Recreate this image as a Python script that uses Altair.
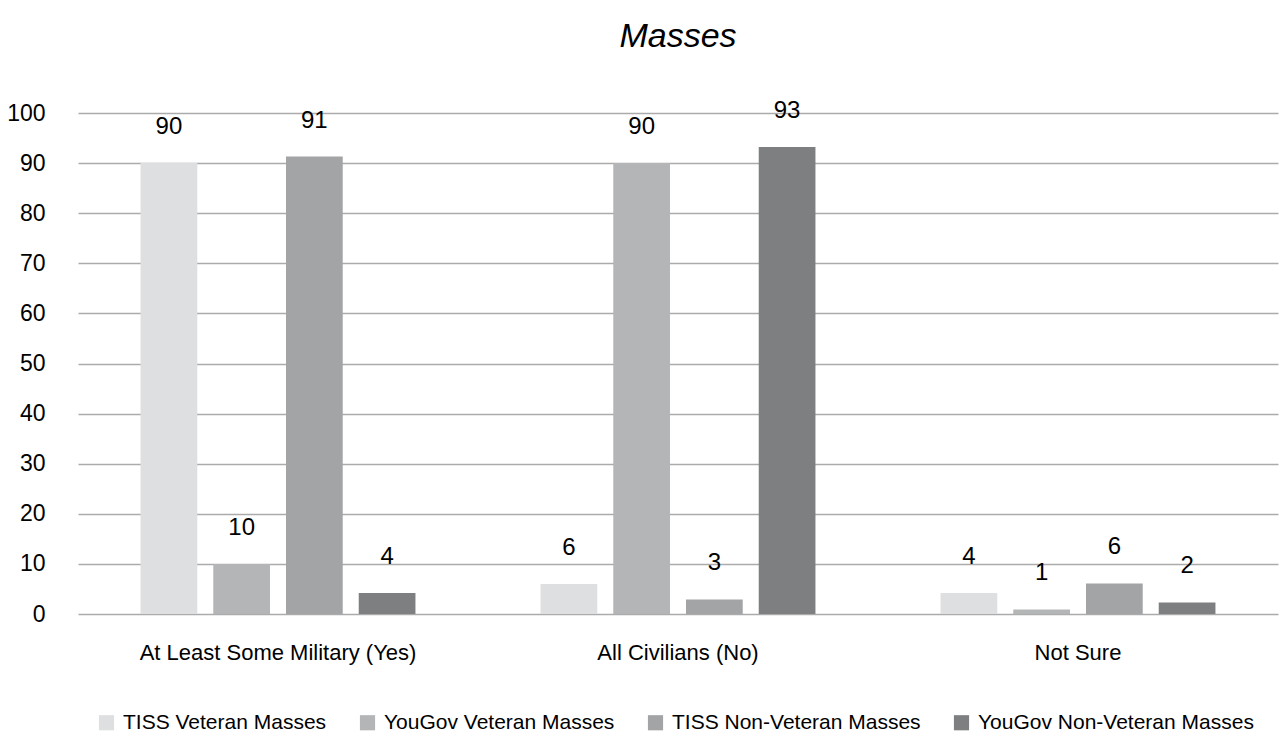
import altair as alt
import pandas as pd

categories = ["At Least Some Military (Yes)", "All Civilians (No)", "Not Sure"]
series = ["TISS Veteran Masses", "YouGov Veteran Masses", "TISS Non-Veteran Masses", "YouGov Non-Veteran Masses"]
values = {
    "TISS Veteran Masses": [90.0, 6.0, 4.2],
    "YouGov Veteran Masses": [10.0, 90.0, 0.9],
    "TISS Non-Veteran Masses": [91.3, 2.9, 6.1],
    "YouGov Non-Veteran Masses": [4.2, 93.2, 2.3],
}
labels = {
    "TISS Veteran Masses": ["90", "6", "4"],
    "YouGov Veteran Masses": ["10", "90", "1"],
    "TISS Non-Veteran Masses": ["91", "3", "6"],
    "YouGov Non-Veteran Masses": ["4", "93", "2"],
}
colors = ["#DEDFE0", "#B4B5B6", "#A3A4A5", "#7E7F80"]

rows = []
for s in series:
    for i, c in enumerate(categories):
        rows.append({"category": c, "series": s, "value": values[s][i], "label": labels[s][i]})
df = pd.DataFrame(rows)

FONT = "Liberation Sans"

x = alt.X("category:N", sort=categories, title=None,
          scale=alt.Scale(paddingInner=0, paddingOuter=0),
          axis=alt.Axis(labelAngle=0, labelFontSize=22, labelColor="#000", labelFont=FONT,
                        ticks=False, domain=False, labelPadding=28, labelLimit=0))
xo = alt.XOffset("series:N", sort=series, scale=alt.Scale(paddingInner=0.22, paddingOuter=0.86))
y = alt.Y("value:Q", title=None,
          scale=alt.Scale(domain=[0, 100]),
          axis=alt.Axis(values=list(range(0, 101, 10)), labelFontSize=23, labelColor="#000",
                        labelFont=FONT, ticks=False, domain=False, labelPadding=33,
                        grid=True, gridColor="#ABABAB", gridWidth=1.5))
color = alt.Color("series:N", sort=series, scale=alt.Scale(domain=series, range=colors),
                  legend=alt.Legend(title=None, orient="none", legendX=18, legendY=599,
                                    direction="horizontal", columns=4, symbolType="square",
                                    symbolSize=230, symbolStrokeWidth=0, labelFontSize=21,
                                    labelFont=FONT, labelColor="#000", columnPadding=30,
                                    labelLimit=0, symbolOffset=0, labelOffset=6))

bars = alt.Chart(df).mark_bar().encode(x=x, xOffset=xo, y=y, color=color)
text = alt.Chart(df).mark_text(baseline="middle", dy=-36, fontSize=24, font=FONT, color="#000").encode(
    x=x, xOffset=xo, y=y, text="label:N")

chart = (bars + text).properties(
    width=1200, height=501,
    title=alt.TitleParams("Masses", fontSize=34, fontStyle="italic", fontWeight="normal",
                          font=FONT, anchor="middle", offset=45, color="#000"),
    padding={"left": 70, "top": 105, "right": 2, "bottom": 130},
    autosize=alt.AutoSizeParams(type="none"),
).configure_view(stroke=None)

chart.save("out.html", embed_options={"renderer": "svg", "actions": False})
